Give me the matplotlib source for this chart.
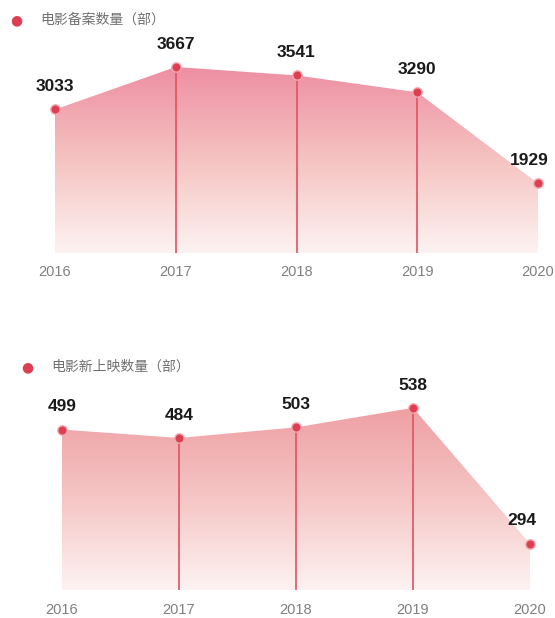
import numpy as np
import matplotlib
matplotlib.use('Agg')
import matplotlib.pyplot as plt
from matplotlib.colors import LinearSegmentedColormap

plt.rcParams['font.family'] = ['Liberation Sans', 'Noto Sans CJK SC', 'DejaVu Sans']

# Dados
anos = ['2016', '2017', '2018', '2019', '2020']
filmes_registrados = [3033, 3667, 3541, 3290, 1929]
filmes_lancados = [499, 484, 503, 538, 294]
titulo_1 = '电影备案数量（部）'
titulo_2 = '电影新上映数量（部）'

W, H = 555, 618
fig = plt.figure(figsize=(W / 100, H / 100), dpi=100)

cmap_1 = LinearSegmentedColormap.from_list('rosa', ['#fdf3f2', '#f5c3c1', '#ee8ea3'])
cmap_2 = LinearSegmentedColormap.from_list('salmao', ['#fdf3f2', '#f5c6c5', '#ee9fa4'])


def painel(x0, x1, y_base, y_topo, ylim, valores, titulo, leg_xy, cmap):
    ax = fig.add_axes([x0 / W, 1 - y_base / H, (x1 - x0) / W, (y_base - y_topo) / H])
    x = np.arange(len(anos))

    # preenchimento com degrade
    poly = ax.fill_between(x, ylim[0], valores, color='none', lw=0)
    grad = np.linspace(0, 1, 256).reshape(-1, 1)
    img = ax.imshow(grad, cmap=cmap, origin='lower', aspect='auto',
                    extent=[0, len(anos) - 1, ylim[0], max(valores)], zorder=1)
    img.set_clip_path(poly.get_paths()[0], transform=ax.transData)
    ax.set_xlim(0, len(anos) - 1)
    ax.set_ylim(*ylim)

    # linhas verticais
    for xi, v in zip(x[1:-1], valores[1:-1]):
        ax.plot([xi, xi], [ylim[0], v], color='#e2525e', lw=1.2, zorder=2)

    ax.scatter(x, valores, s=45, color='#dc3f52', edgecolor='#f6a5ad', lw=1.0,
               zorder=3, clip_on=False)

    # rotulos de valor (o ultimo um pouco deslocado para a esquerda)
    for xi, v in zip(x, valores):
        dx = -6 if xi == x[-1] else 0
        ax.annotate(str(v), (xi, v), xytext=(dx, 11), textcoords='offset points',
                    ha='center', va='bottom', fontsize=12.5, fontweight='bold',
                    color='#1a1a1a', annotation_clip=False)

    ax.set_xticks(x)
    ax.set_xticklabels(anos, color='#808080', fontsize=10.5)
    ax.tick_params(axis='x', length=0, pad=9)
    ax.set_yticks([])
    for s in ax.spines.values():
        s.set_visible(False)
    ax.patch.set_alpha(0)

    fig.text(leg_xy[0] / W, 1 - leg_xy[1] / H, '●', color='#dc3f52', fontsize=10,
             ha='center', va='center', family='DejaVu Sans')
    fig.text((leg_xy[0] + 24) / W, 1 - leg_xy[1] / H, titulo, color='#707070',
             fontsize=10, ha='left', va='center', family='Noto Sans CJK SC')
    return ax


painel(55, 538, 253, 30, (891, 4219), filmes_registrados, titulo_1, (16, 20), cmap_1)
painel(62, 530, 590, 380, (211, 588), filmes_lancados, titulo_2, (27, 367), cmap_2)

plt.savefig('out.png', dpi=100, facecolor='white')
